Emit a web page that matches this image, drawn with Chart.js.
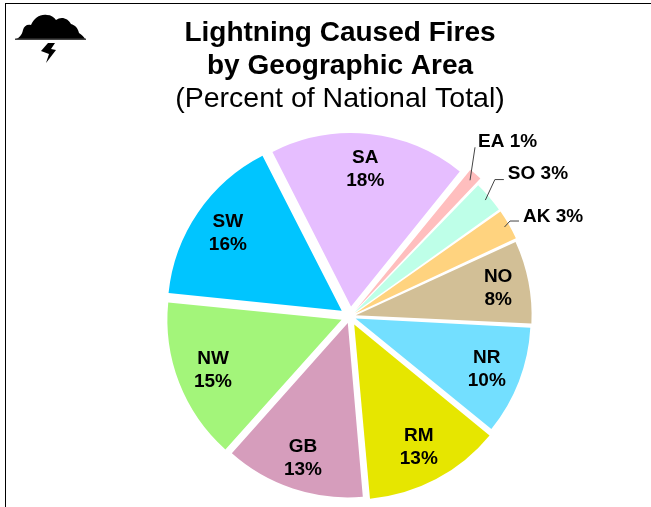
<!DOCTYPE html>
<html>
<head>
<meta charset="utf-8">
<style>
    html, body { margin: 0; padding: 0; background: #fff; overflow: hidden; }
    #wrap { position: relative; width: 651px; height: 507px; }
    #frame { position: absolute; left: 5px; top: 3px; width: 646px; height: 504px; box-sizing: border-box; border-left: 1px solid #000; border-top: 1px solid #000; }
    #icon { position: absolute; left: 15px; top: 13px; }
</style>
</head>
<body>
<div id="wrap">
    <div id="frame"></div>
    <svg id="icon" width="72" height="52" viewBox="0 0 72 52">
        <path d="M1 26 C4 25 7 22 8 17 C9 13 12 11 16 12 C19 5 25 1 32 2 C36 2 39 4 41 7 C46 3 53 5 56 11 C60 12 63 15 64 20 C67 22 69 24 70 26 Z" fill="#000"/>
        <rect x="0" y="25.5" width="71" height="1.5" fill="#444"/>
        <path d="M33 30 L40 30 L36 36 L41 37 L31 50 L34 41 L26 38 Z" fill="#000"/>
    </svg>
    <canvas id="fireChart" width="651" height="507"></canvas>
</div>
<script src="https://cdn.jsdelivr.net/npm/chart.js@4"></script>
<script>
const areas = ['SA', 'EA', 'SO', 'AK', 'NO', 'NR', 'RM', 'GB', 'NW', 'SW'];
// slice sizes as measured, the labels show them rounded
const percents = [18.3, 1.4, 3.0, 2.9, 7.7, 10.1, 12.7, 13.0, 15.0, 15.9];

const colors = ['#E6BEFF', '#FFBEBE', '#BEFFE8', '#FFD37F', '#D2BF96', '#73DFFF', '#E6E600', '#D69DBC', '#A3F57A', '#00C5FF'];
// how far each slice is pulled out, in pixels
const explode = [10, 9, 6, 6, 6, 6, 9, 7, 9, 10];

// labels inside the slices sit at this fraction of the radius, null = outside with a leader
const labelRadius = [0.8, null, null, null, 0.84, 0.815, 0.8, 0.825, 0.8, 0.8];
// leader: elbow, length of the flat run and label start, relative to the slice edge
const leaders = {
    EA: { elbow: [5, -33], run: 0, text: [8, -39] },
    SO: { elbow: [9.5, -20.5], run: 9, text: [22.5, -26.5] },
    AK: { elbow: [5.5, -6], run: 9, text: [18.5, -10] }
};

const sliceLabels = {
    id: 'sliceLabels',
    afterLayout(chart) {
        // the title sits a little left of the pie centre
        chart.boxes.forEach(function(box) {
            if (box.options && box.options.text) {
                box.left -= 10;
                box.right -= 10;
            }
        });
    },
    afterDatasetsDraw(chart) {
        const ctx = chart.ctx;
        const arcs = chart.getDatasetMeta(0).data;
        ctx.save();
        ctx.fillStyle = '#000';
        ctx.strokeStyle = '#444';
        ctx.lineWidth = 1;
        ctx.font = 'bold 19px "Liberation Sans", Arial, sans-serif';
        arcs.forEach(function(arc, i) {
            const p = arc.getProps(['x', 'y', 'startAngle', 'endAngle', 'outerRadius']);
            const mid = (p.startAngle + p.endAngle) / 2;
            const off = explode[i];
            const cx = p.x + Math.cos(mid) * off;
            const cy = p.y + Math.sin(mid) * off;
            const pct = Math.round(percents[i]) + '%';
            if (labelRadius[i] !== null) {
                const r = p.outerRadius * labelRadius[i];
                const lx = cx + Math.cos(mid) * r;
                const ly = cy + Math.sin(mid) * r;
                ctx.textAlign = 'center';
                ctx.textBaseline = 'middle';
                ctx.fillText(areas[i], lx, ly - 11);
                ctx.fillText(pct, lx, ly + 12);
            } else {
                const ex = cx + Math.cos(mid) * p.outerRadius;
                const ey = cy + Math.sin(mid) * p.outerRadius;
                const l = leaders[areas[i]];
                ctx.beginPath();
                ctx.moveTo(ex, ey);
                ctx.lineTo(ex + l.elbow[0], ey + l.elbow[1]);
                ctx.lineTo(ex + l.elbow[0] + l.run, ey + l.elbow[1]);
                ctx.stroke();
                ctx.textAlign = 'left';
                ctx.textBaseline = 'middle';
                ctx.fillText(areas[i] + ' ' + pct, ex + l.text[0], ey + l.text[1]);
            }
        });
        ctx.restore();
    }
};

new Chart(document.getElementById('fireChart'), {
    type: 'pie',
    data: {
        labels: areas,
        datasets: [{
            data: percents,
            backgroundColor: colors,
            borderWidth: 0,
            offset: explode.map(v => v * 4) // Chart.js draws offset / 4
        }]
    },
    options: {
        responsive: false,
        animation: false,
        rotation: -27,
        radius: 172.5,
        layout: { padding: { left: 49, right: 0, top: 4, bottom: 0 } },
        plugins: {
            legend: { display: false },
            tooltip: { enabled: false },
            title: {
                display: true,
                text: ['Lightning Caused Fires', 'by Geographic Area'],
                color: '#000',
                font: { family: '"Liberation Sans", Arial, sans-serif', size: 28, weight: 'bold', lineHeight: 1.18 },
                padding: { top: 13, bottom: 0 }
            },
            subtitle: {
                display: true,
                text: '(Percent of National Total)',
                color: '#000',
                font: { family: '"Liberation Sans", Arial, sans-serif', size: 28.5, weight: 'normal', lineHeight: 1.15 },
                padding: { top: 0, bottom: 10 }
            }
        }
    },
    plugins: [sliceLabels]
});
</script>
</body>
</html>
